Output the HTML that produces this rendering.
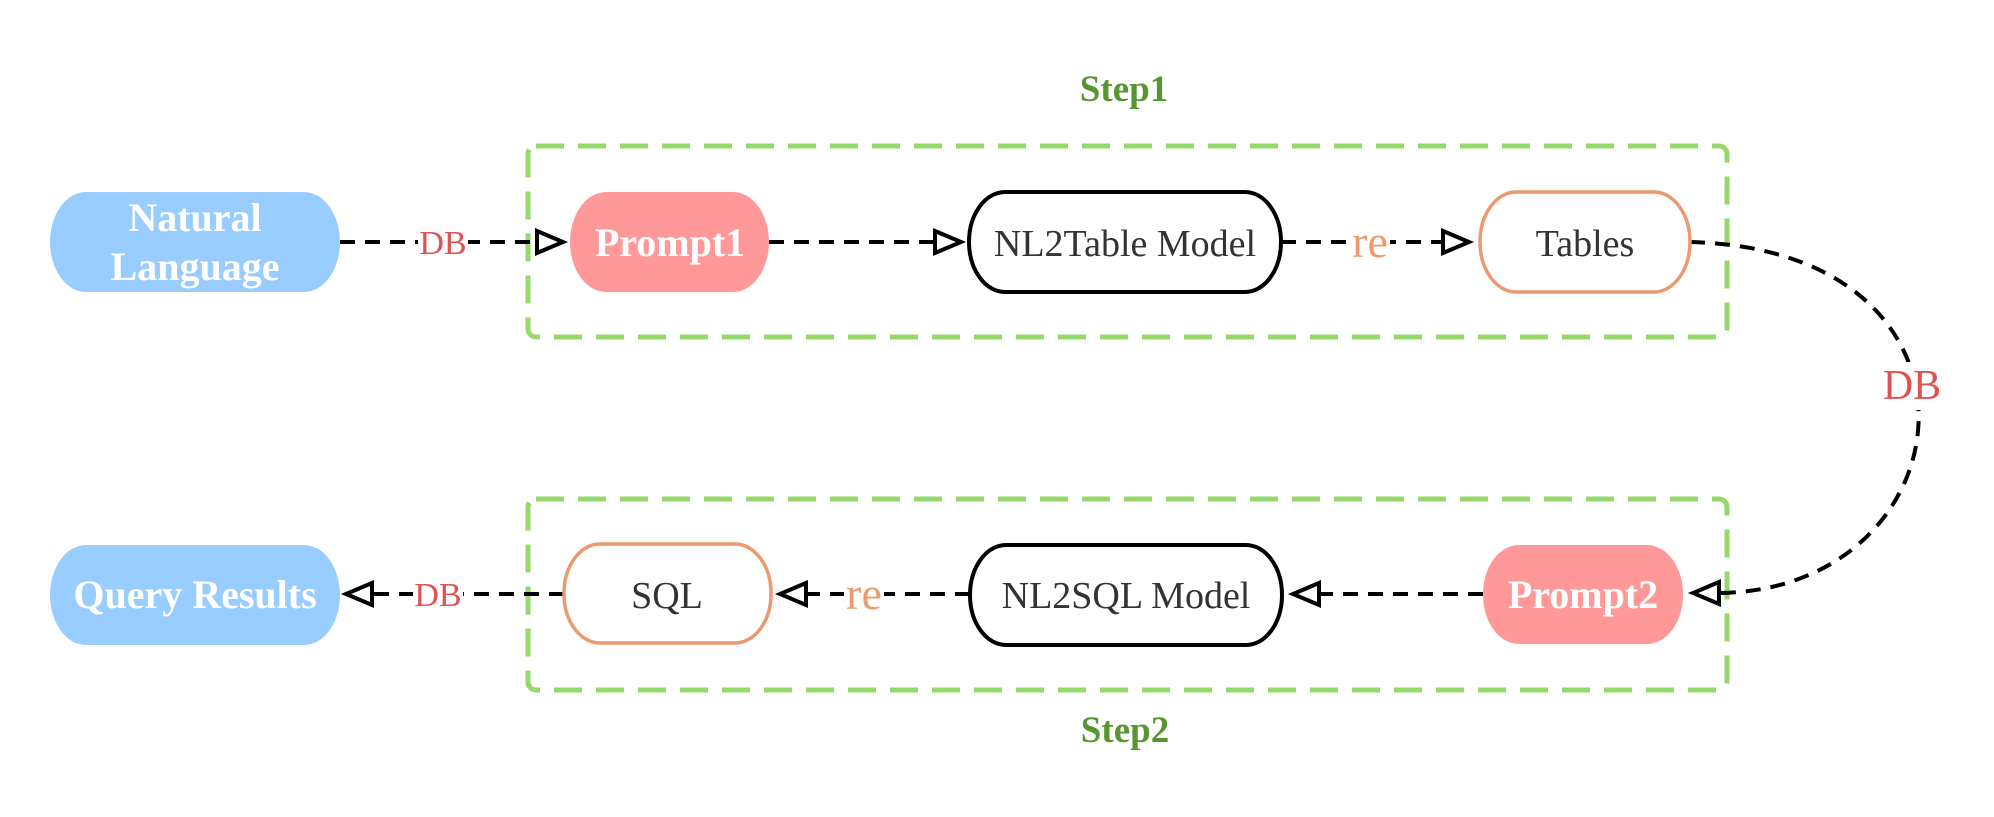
<!DOCTYPE html>
<html><head><meta charset="utf-8"><style>
html,body{margin:0;padding:0;background:#fff;}
svg{display:block;}
text{font-family:"Liberation Serif",serif;}
</style></head><body>
<svg width="1994" height="817" viewBox="0 0 1994 817" xmlns="http://www.w3.org/2000/svg">
<!-- step boxes -->
<rect x="528" y="146" width="1199" height="191" rx="8" fill="none" stroke="#97d86a" stroke-width="5" stroke-dasharray="28 14"/>
<rect x="528" y="499" width="1199" height="191" rx="8" fill="none" stroke="#97d86a" stroke-width="5" stroke-dasharray="28 14"/>
<text x="1124" y="101" font-size="37" font-weight="bold" fill="#55962f" text-anchor="middle">Step1</text>
<text x="1125" y="742" font-size="37" font-weight="bold" fill="#55962f" text-anchor="middle">Step2</text>

<!-- connectors -->
<g stroke="#000" stroke-width="4" stroke-dasharray="15 10" fill="none">
<line x1="340" y1="242" x2="537" y2="242"/>
<line x1="769" y1="242" x2="935" y2="242"/>
<line x1="1281" y1="242" x2="1443" y2="242"/>
<line x1="1483" y1="594" x2="1319" y2="594"/>
<line x1="970" y1="594" x2="806" y2="594"/>
<line x1="564" y1="594" x2="372" y2="594"/>
<path d="M1690 242 C2010 250 1970 590 1719 593"/>
</g>
<g stroke="#000" stroke-width="4" fill="#fff" stroke-linejoin="miter">
<polygon points="537,231 563,242 537,253"/>
<polygon points="935,231 961,242 935,253"/>
<polygon points="1443,231 1469,242 1443,253"/>
<polygon points="1319,583 1293,594 1319,605"/>
<polygon points="806,583 780,594 806,605"/>
<polygon points="372,583 346,594 372,605"/>
<polygon points="1719,582 1693,593 1719,604"/>
</g>
<!-- labels on connectors -->
<rect x="418" y="222" width="50" height="38" fill="#fff"/>
<text x="443" y="254" font-size="34" fill="#e05252" text-anchor="middle">DB</text>
<rect x="1350" y="222" width="40" height="40" fill="#fff"/>
<text x="1370" y="257" font-size="46" fill="#ee9a6e" text-anchor="middle">re</text>
<rect x="844" y="574" width="40" height="40" fill="#fff"/>
<text x="864" y="609" font-size="46" fill="#ee9a6e" text-anchor="middle">re</text>
<rect x="413" y="574" width="50" height="38" fill="#fff"/>
<text x="438" y="606" font-size="34" fill="#e05252" text-anchor="middle">DB</text>
<rect x="1880" y="362" width="64" height="48" fill="#fff"/>
<text x="1912" y="399" font-size="42" fill="#e05252" text-anchor="middle">DB</text>

<!-- nodes row 1 -->
<rect x="50" y="192" width="290" height="100" rx="36" ry="50" fill="#99ccff"/>
<text x="195" y="231" font-size="40" font-weight="bold" fill="#fff" text-anchor="middle">Natural</text>
<text x="195" y="280" font-size="40" font-weight="bold" fill="#fff" text-anchor="middle">Language</text>
<rect x="570" y="192" width="199" height="100" rx="36" ry="50" fill="#ff9999"/>
<text x="670" y="256" font-size="40" font-weight="bold" fill="#fff" text-anchor="middle">Prompt1</text>
<rect x="969" y="192" width="312" height="100" rx="36" ry="50" fill="#fff" stroke="#000" stroke-width="4"/>
<text x="1125" y="256" font-size="38" fill="#333" text-anchor="middle">NL2Table Model</text>
<rect x="1480" y="192" width="210" height="100" rx="36" ry="50" fill="#fff" stroke="#ea9a6e" stroke-width="3.5"/>
<text x="1585" y="256" font-size="38" fill="#333" text-anchor="middle">Tables</text>

<!-- nodes row 2 -->
<rect x="50" y="545" width="290" height="100" rx="36" ry="50" fill="#99ccff"/>
<text x="195" y="608" font-size="40" font-weight="bold" fill="#fff" text-anchor="middle">Query Results</text>
<rect x="564" y="544" width="207" height="99" rx="36" ry="49" fill="#fff" stroke="#ea9a6e" stroke-width="3.5"/>
<text x="667" y="608" font-size="38" fill="#333" text-anchor="middle">SQL</text>
<rect x="970" y="545" width="312" height="100" rx="36" ry="50" fill="#fff" stroke="#000" stroke-width="4"/>
<text x="1126" y="608" font-size="38" fill="#333" text-anchor="middle">NL2SQL Model</text>
<rect x="1483" y="545" width="200" height="99" rx="36" ry="49" fill="#ff9999"/>
<text x="1583" y="608" font-size="40" font-weight="bold" fill="#fff" text-anchor="middle">Prompt2</text>
</svg>
</body></html>
